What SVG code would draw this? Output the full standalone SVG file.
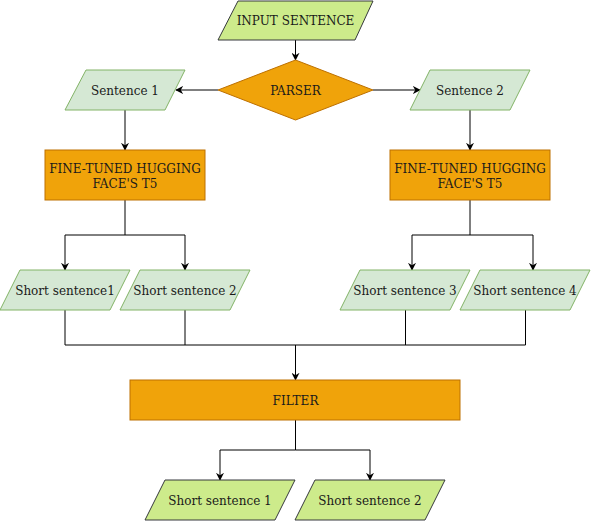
<svg xmlns="http://www.w3.org/2000/svg" width="591" height="521" viewBox="0 0 591 521">
<style>
text{font-family:"DejaVu Serif",serif;font-size:12px;fill:#1a1a1a;text-anchor:middle;dominant-baseline:central}
.lg{fill:#cdeb8b;stroke:#36393d;stroke-width:1}
.g{fill:#d5e8d4;stroke:#82b366;stroke-width:1}
.o{fill:#f0a30a;stroke:#bd7000;stroke-width:1}
.c{fill:none;stroke:#000;stroke-width:1}
</style>
<defs>
<marker id="a" viewBox="0 0 10 10" refX="9" refY="5" markerWidth="8" markerHeight="8" markerUnits="userSpaceOnUse" orient="auto">
<path d="M0,0 L10,5 L0,10 L3,5 Z" fill="#000"/>
</marker>
</defs>
<g id="connectors">
<path class="c" d="M295.5,40 V60" marker-end="url(#a)"/>
<path class="c" d="M218,90 H176" marker-end="url(#a)"/>
<path class="c" d="M373,90 H420" marker-end="url(#a)"/>
<path class="c" d="M125,110 V150" marker-end="url(#a)"/>
<path class="c" d="M470,110 V150" marker-end="url(#a)"/>
<path class="c" d="M125,200 V235 H65 V270" marker-end="url(#a)"/>
<path class="c" d="M125,235 H185 V270" marker-end="url(#a)"/>
<path class="c" d="M470,200 V235 H412 V270" marker-end="url(#a)"/>
<path class="c" d="M470,235 H533 V270" marker-end="url(#a)"/>
<path class="c" d="M65,310 V345 H525.5 V310"/>
<path class="c" d="M185,310 V345"/>
<path class="c" d="M405.5,310 V345"/>
<path class="c" d="M295.5,345 V380" marker-end="url(#a)"/>
<path class="c" d="M295.5,420 V450 H220 V480" marker-end="url(#a)"/>
<path class="c" d="M295.5,450 H370 V480" marker-end="url(#a)"/>
</g>
<g id="input">
<polygon class="lg" points="238,1 373,1 355,40 218,40"/>
<text x="295.5" y="21">INPUT SENTENCE</text>
</g>
<g id="parser">
<polygon class="o" points="295.5,60 373,90 295.5,120 218,90"/>
<text x="295.5" y="91">PARSER</text>
</g>
<g id="sentence1">
<polygon class="g" points="86,70 185,70 165,110 65,110"/>
<text x="125" y="91">Sentence 1</text>
</g>
<g id="sentence2">
<polygon class="g" points="430,70 530,70 510,110 410,110"/>
<text x="470" y="91">Sentence 2</text>
</g>
<g id="t5left">
<rect class="o" x="45" y="150" width="160" height="50"/>
<text x="125" y="169">FINE-TUNED HUGGING</text>
<text x="125" y="184">FACE'S T5</text>
</g>
<g id="t5right">
<rect class="o" x="390" y="150" width="160" height="50"/>
<text x="470" y="169">FINE-TUNED HUGGING</text>
<text x="470" y="184">FACE'S T5</text>
</g>
<g id="short1">
<polygon class="g" points="20,270 130,270 110,310 0,310"/>
<text x="65" y="291">Short sentence1</text>
</g>
<g id="short2">
<polygon class="g" points="140,270 250,270 230,310 120,310"/>
<text x="185" y="291">Short sentence 2</text>
</g>
<g id="short3">
<polygon class="g" points="360,270 470,270 450,310 340,310"/>
<text x="405" y="291">Short sentence 3</text>
</g>
<g id="short4">
<polygon class="g" points="480,270 590,270 570,310 460,310"/>
<text x="525" y="291">Short sentence 4</text>
</g>
<g id="filter">
<rect class="o" x="130" y="380" width="330" height="40"/>
<text x="295.5" y="401">FILTER</text>
</g>
<g id="out1">
<polygon class="lg" points="165,480 295,480 275,520 145,520"/>
<text x="220" y="501">Short sentence 1</text>
</g>
<g id="out2">
<polygon class="lg" points="315,480 445,480 425,520 295,520"/>
<text x="370" y="501">Short sentence 2</text>
</g>
</svg>
